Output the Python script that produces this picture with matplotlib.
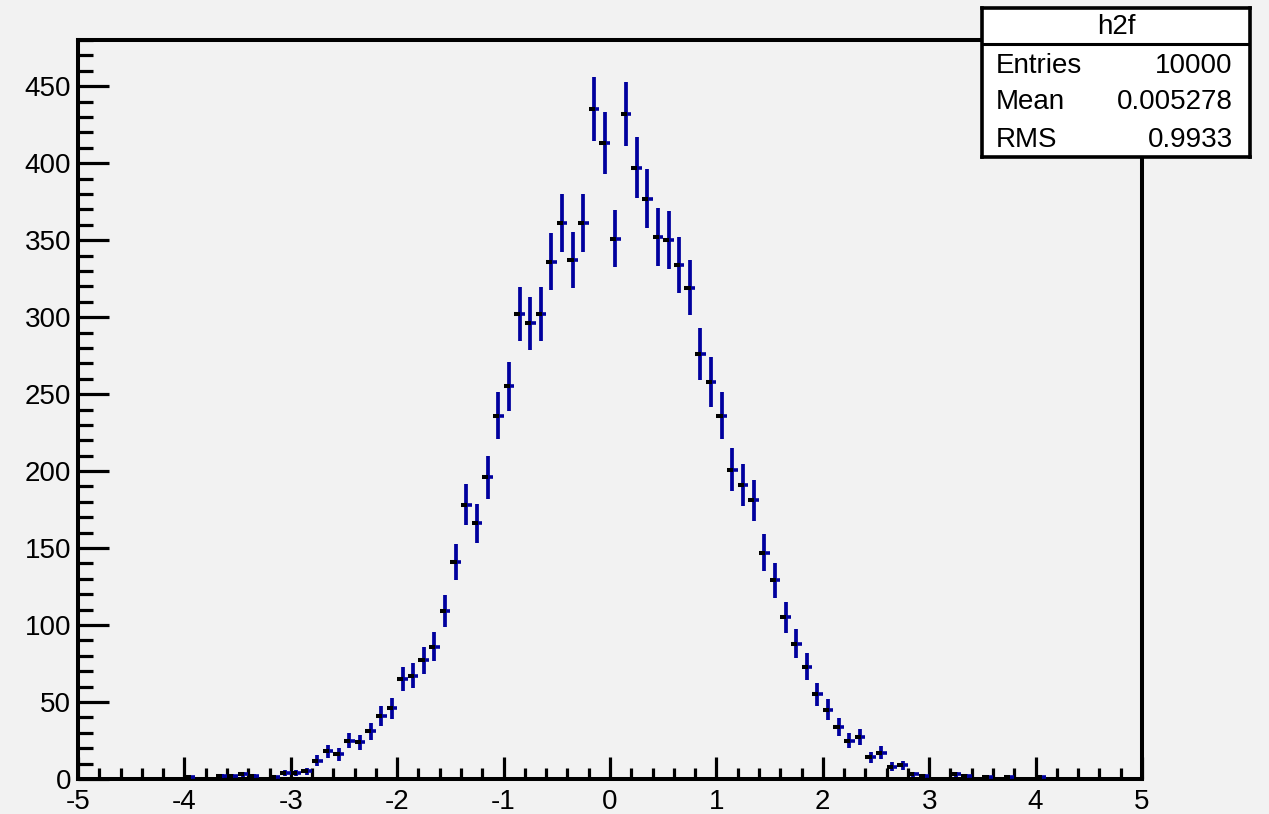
import numpy as np
import matplotlib
matplotlib.use("Agg")
import matplotlib.pyplot as plt
from matplotlib.ticker import MultipleLocator

plt.rcParams['font.family'] = ['Liberation Sans', 'DejaVu Sans']
plt.rcParams['axes.unicode_minus'] = False

# ---- data ----
bin_edges_lo = -5.0
bin_edges_hi = 5.0
n_bins = 100
counts = [
    0, 0, 0, 0, 0, 0, 0, 0, 0, 0,          # -4.95 .. -4.05
    1, 0, 0, 2, 2, 3, 2, 0, 1, 4,          # -3.95 .. -3.05
    4, 5, 12, 18, 16, 25, 24, 31, 41, 46,  # -2.95 .. -2.05
    65, 67, 77, 86, 109, 141, 178, 166, 196, 236,   # -1.95 .. -1.05
    255, 302, 296, 302, 336, 361, 337, 361, 435, 413,  # -0.95 .. -0.05
    351, 432, 397, 377, 352, 350, 334, 319, 276, 258,  # 0.05 .. 0.95
    236, 201, 191, 181, 147, 129, 105, 88, 73, 55,     # 1.05 .. 1.95
    45, 34, 25, 27, 14, 17, 8, 9, 3, 2,                # 2.05 .. 2.95
    0, 0, 3, 2, 0, 1, 0, 1, 0, 0,                      # 3.05 .. 3.95
    1, 0, 0, 0, 0, 0, 0, 0, 0, 0,                      # 4.05 .. 4.95
]
x_ticks = [-5, -4, -3, -2, -1, 0, 1, 2, 3, 4, 5]
y_ticks = [0, 50, 100, 150, 200, 250, 300, 350, 400, 450]
hist_name = "h2f"
stat_labels = ["Entries", "Mean", "RMS"]
stat_values = ["10000", "0.005278", "0.9933"]

# ---- derived ----
edges = np.linspace(bin_edges_lo, bin_edges_hi, n_bins + 1)
centers = 0.5 * (edges[:-1] + edges[1:])
width = edges[1] - edges[0]
y = np.array(counts, dtype=float)
mask = y > 0
xc = centers[mask]
yc = y[mask]
err = np.sqrt(yc)

BG = '#f2f2f2'
BLUE = '#00009e'

fig = plt.figure(figsize=(12.69, 8.14), dpi=100, facecolor=BG)
ax = fig.add_axes([78/1269, 35/814, (1142-78)/1269, (779-40)/814])
ax.set_facecolor(BG)

ax.vlines(xc, yc - err, yc + err, colors=BLUE, linewidth=2.7, zorder=3)
ax.hlines(yc, xc - width/2, xc + width/2, colors=BLUE, linewidth=2.6, zorder=3)
ax.hlines(yc, xc - width/2, xc + width*0.08, colors='black', linewidth=2.9, zorder=4)

ax.set_xlim(bin_edges_lo, bin_edges_hi)
ax.set_ylim(0, 480)

for s in ax.spines.values():
    s.set_linewidth(2.9)
    s.set_color('black')

ax.set_xticks(x_ticks)
ax.set_xticklabels([str(t) for t in x_ticks])
ax.set_yticks(y_ticks)
ax.set_yticklabels([str(t) for t in y_ticks])
ax.xaxis.set_minor_locator(MultipleLocator(0.2))
ax.yaxis.set_minor_locator(MultipleLocator(10))

ax.tick_params(axis='x', which='major', direction='in', length=16, width=2.3,
               labelsize=20, pad=7, top=False)
ax.tick_params(axis='x', which='minor', direction='in', length=8, width=2.3, top=False)
ax.tick_params(axis='y', which='major', direction='in', length=22, width=2.3,
               labelsize=20, pad=5, right=False)
ax.tick_params(axis='y', which='minor', direction='in', length=11, width=2.3, right=False)

# ---- stats box ----
sb = fig.add_axes([982/1269, (814-157)/814, (1250-982)/1269, (157-8)/814], zorder=10)
sb.set_facecolor('white')
sb.set_xlim(0, 1)
sb.set_ylim(0, 1)
sb.set_xticks([])
sb.set_yticks([])
for s in sb.spines.values():
    s.set_linewidth(2.6)
    s.set_color('black')
sb.axhline(0.758, color='black', linewidth=2.2)
sb.text(0.5, 0.872, hist_name, ha='center', va='center', fontsize=20)
row_y = [0.611, 0.369, 0.114]
for lab, val, ry in zip(stat_labels, stat_values, row_y):
    sb.text(0.052, ry, lab, ha='left', va='center', fontsize=20)
    sb.text(0.935, ry, val, ha='right', va='center', fontsize=20)

fig.savefig('out.png', dpi=100, facecolor=BG)
